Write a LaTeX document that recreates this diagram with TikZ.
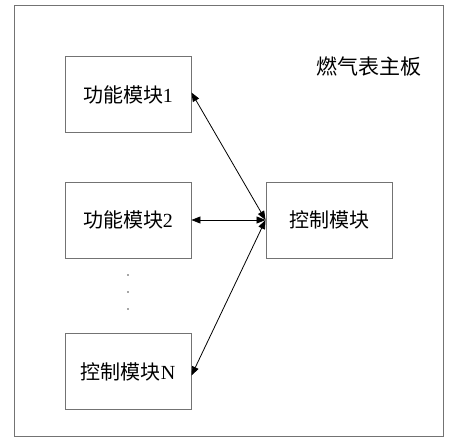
\documentclass[tikz,border=0pt]{standalone}
\usepackage{fontspec}
\setmainfont{Liberation Serif}
\newfontfamily\cjk{Noto Sans CJK SC}
\usetikzlibrary{arrows.meta}
\begin{document}
\begin{tikzpicture}[x=1pt,y=-1pt,
  modbox/.style={draw=black!55,line width=0.9pt,minimum width=126pt,minimum height=76pt,inner sep=0pt,font=\fontsize{20}{24}\selectfont},
  link/.style={line width=0.8pt,{Triangle[length=9pt,width=7pt]}-{Triangle[length=9pt,width=7pt]}},
  dot/.style={circle,fill=black!70,inner sep=0pt,minimum size=1.6pt}]
\useasboundingbox (0,0) rectangle (456,440);
\draw[black!55,line width=0.9pt] (14,5) rectangle (443,436);
\node[font=\fontsize{21}{25}\selectfont] (title) at (369,66) {\cjk 燃气表主板};
\node[modbox] (f1) at (128,94.5) {\cjk 功能模块\rmfamily 1};
\node[modbox] (f2) at (128,220) {\cjk 功能模块\rmfamily 2};
\node[modbox] (f3) at (128,371.5) {\cjk 控制模块\rmfamily N};
\node[modbox] (ctl) at (329,220) {\cjk 控制模块};
\node[dot] (d1) at (128,275) {};
\node[dot] (d2) at (128,292) {};
\node[dot] (d3) at (128,309) {};
\draw[link] ([yshift=2pt]f1.east) -- (ctl.west);
\draw[link] (f2.east) -- (ctl.west);
\draw[link] ([yshift=-4pt]f3.east) -- (ctl.west);
\end{tikzpicture}
\end{document}
